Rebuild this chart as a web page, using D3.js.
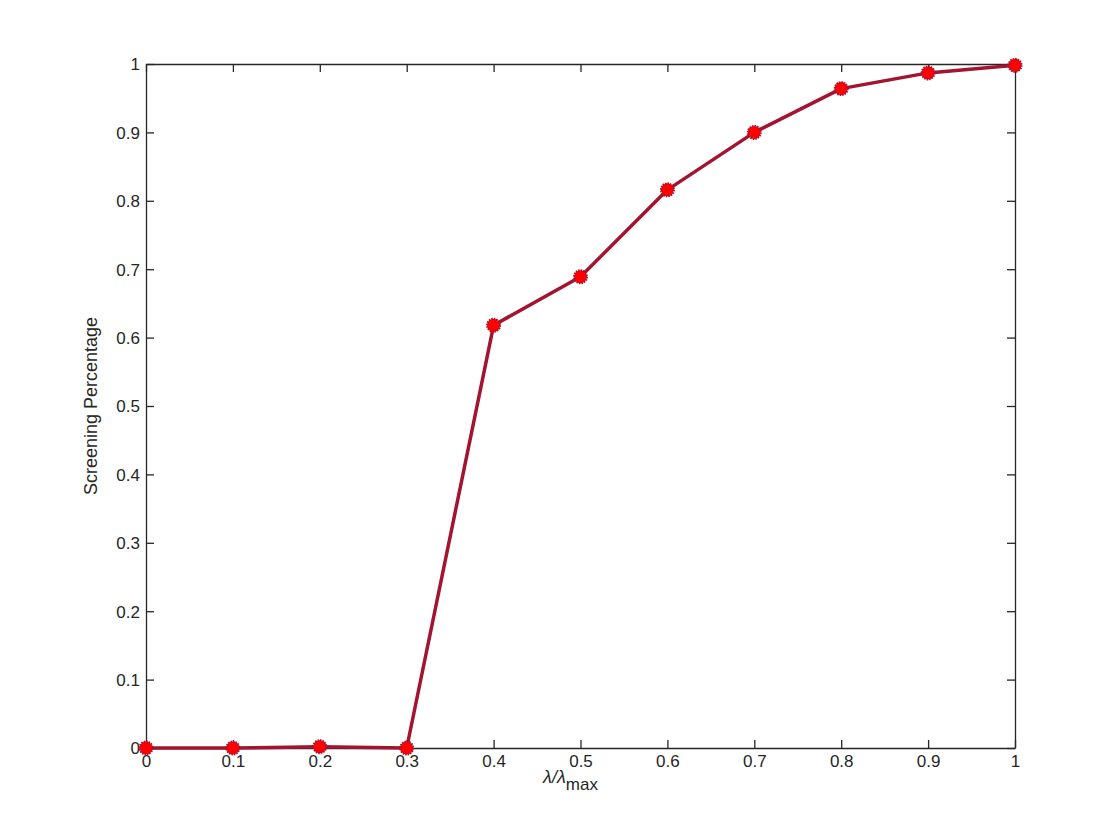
<!DOCTYPE html>
<html><head><meta charset="utf-8">
<script src="https://cdn.jsdelivr.net/npm/d3@7"></script>
<style>body{margin:0;background:#fff}text{font-family:"Liberation Sans",Arial,sans-serif}</style>
</head><body>
<svg id="c" width="1120" height="840"></svg>
<script>
const xValues = [0, 0.1, 0.2, 0.3, 0.4, 0.5, 0.6, 0.7, 0.8, 0.9, 1];
const yValues = [0, 0, 0.002, 0, 0.618, 0.689, 0.816, 0.900, 0.964, 0.987, 0.998];
const xTicks = [0, 0.1, 0.2, 0.3, 0.4, 0.5, 0.6, 0.7, 0.8, 0.9, 1];
const yTicks = [0, 0.1, 0.2, 0.3, 0.4, 0.5, 0.6, 0.7, 0.8, 0.9, 1];
const xLabel = "λ/λ", xSub = "max";
const yLabel = "Screening Percentage";

const L = 146, R = 1015, T = 64, B = 748;
const svg = d3.select("#c");
const x = d3.scaleLinear().domain([0, 1]).range([L, R]);
const y = d3.scaleLinear().domain([0, 1]).range([B, T]);
const fmt = d => d === 0 ? "0" : d === 1 ? "1" : d3.format(".1f")(d);
const tl = 8;

const ax = svg.append("g").attr("transform", `translate(0,${B})`)
  .call(d3.axisBottom(x).tickValues(xTicks).tickFormat(fmt).tickSizeInner(-tl).tickSizeOuter(0).tickPadding(5));
const axT = svg.append("g").attr("transform", `translate(0,${T})`)
  .call(d3.axisTop(x).tickValues(xTicks).tickFormat("").tickSizeInner(-tl).tickSizeOuter(0));
const ay = svg.append("g").attr("transform", `translate(${L},0)`)
  .call(d3.axisLeft(y).tickValues(yTicks).tickFormat(fmt).tickSizeInner(-tl).tickSizeOuter(0).tickPadding(6));
const ayR = svg.append("g").attr("transform", `translate(${R},0)`)
  .call(d3.axisRight(y).tickValues(yTicks).tickFormat("").tickSizeInner(-tl).tickSizeOuter(0));
[ax, axT, ay, ayR].forEach(g => {
  g.selectAll("path").attr("stroke", "#262626").attr("stroke-width", 1.3);
  g.selectAll("line").attr("stroke", "#262626").attr("stroke-width", 1.3);
  g.selectAll("text").attr("font-size", 17).attr("fill", "#262626");
});
ax.selectAll("text").attr("dy", "0.85em");
ay.selectAll("text").attr("dy", "0.35em");

const line = d3.line().x((d, i) => x(xValues[i])).y(d => y(d));
svg.append("path").datum(yValues).attr("d", line)
  .attr("fill", "none").attr("stroke", "#A2142F").attr("stroke-width", 3.5).attr("stroke-linejoin", "round");

svg.selectAll("circle.m").data(yValues).enter().append("circle")
  .attr("cx", (d, i) => x(xValues[i])).attr("cy", d => y(d)).attr("r", 6.5)
  .attr("fill", "#ff0000").attr("stroke", "#A2142F").attr("stroke-width", 2).attr("stroke-dasharray", "1.5,1");

const xl = svg.append("text").attr("x", (L + R) / 2 - 10).attr("y", 783).attr("text-anchor", "middle")
  .attr("font-size", 18).attr("fill", "#262626");
xl.append("tspan").attr("font-style", "italic").text(xLabel);
xl.append("tspan").attr("dy", 7).attr("font-size", 17).text(xSub);

svg.append("text").attr("transform", `translate(97,${(T + B) / 2}) rotate(-90)`)
  .attr("text-anchor", "middle").attr("font-size", 18).attr("fill", "#262626").text(yLabel);
</script>
</body></html>
